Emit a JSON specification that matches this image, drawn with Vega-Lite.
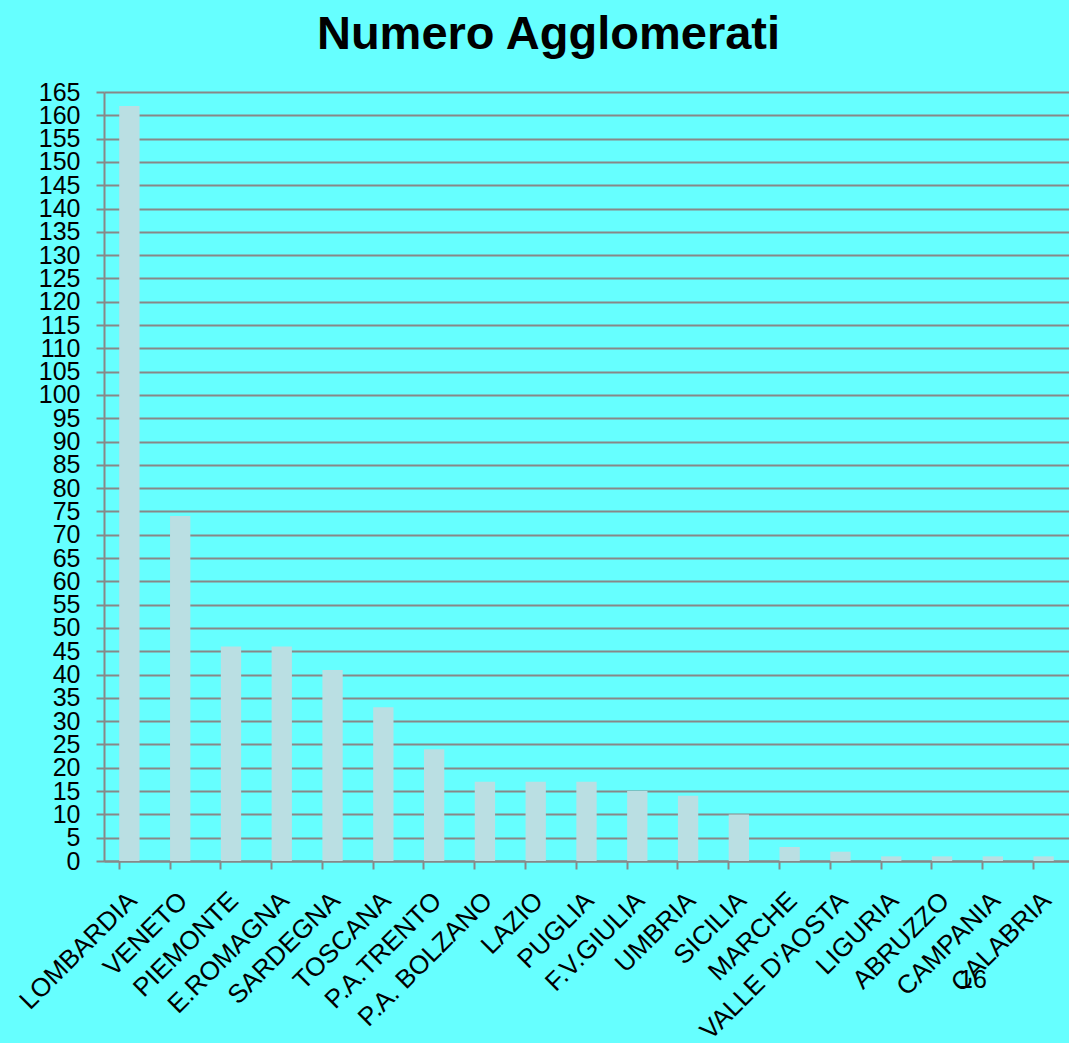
{
  "$schema": "https://vega.github.io/schema/vega-lite/v6.json",
  "width": 965,
  "height": 769,
  "autosize": {"type": "none"},
  "padding": {"left": 104, "top": 92, "right": 0, "bottom": 182},
  "background": "#66FFFF",
  "title": {
    "text": "Numero Agglomerati",
    "font": "Liberation Sans",
    "fontSize": 47,
    "fontWeight": "bold",
    "color": "#000000",
    "anchor": "middle",
    "dx": -38,
    "offset": 21
  },
  "config": {
    "view": {"stroke": null},
    "axis": {
      "labelFont": "Liberation Sans",
      "labelColor": "#000000",
      "domainColor": "#888888",
      "domainWidth": 2,
      "tickColor": "#888888",
      "tickWidth": 2,
      "gridColor": "#888888",
      "gridWidth": 2,
      "gridOpacity": 1
    }
  },
  "encoding": {
    "x": {
      "field": "regione",
      "type": "nominal",
      "sort": null,
      "scale": {"paddingInner": 0.6, "paddingOuter": 0.3},
      "axis": {
        "title": null,
        "labelAngle": -45,
        "labelAlign": "right",
        "labelBaseline": "top",
        "labelFontSize": 26,
        "labelLimit": 400,
        "tickSize": 8,
        "bandPosition": 0,
        "labelPadding": 18,
        "labelOffset": -6,
        "labelOverlap": false,
        "grid": false
      }
    },
    "y": {
      "field": "n",
      "type": "quantitative",
      "scale": {"domain": [0, 165], "nice": false},
      "axis": {
        "title": null,
        "values": [0,5,10,15,20,25,30,35,40,45,50,55,60,65,70,75,80,85,90,95,100,105,110,115,120,125,130,135,140,145,150,155,160,165],
        "labelFontSize": 25,
        "tickSize": 8,
        "labelPadding": 16,
        "labelOverlap": false,
        "grid": true
      }
    }
  },
  "layer": [
    {
      "data": {
        "values": [
          {"regione": "LOMBARDIA", "n": 162},
          {"regione": "VENETO", "n": 74},
          {"regione": "PIEMONTE", "n": 46},
          {"regione": "E.ROMAGNA", "n": 46},
          {"regione": "SARDEGNA", "n": 41},
          {"regione": "TOSCANA", "n": 33},
          {"regione": "P.A.TRENTO", "n": 24},
          {"regione": "P.A. BOLZANO", "n": 17},
          {"regione": "LAZIO", "n": 17},
          {"regione": "PUGLIA", "n": 17},
          {"regione": "F.V.GIULIA", "n": 15},
          {"regione": "UMBRIA", "n": 14},
          {"regione": "SICILIA", "n": 10},
          {"regione": "MARCHE", "n": 3},
          {"regione": "VALLE D'AOSTA", "n": 2},
          {"regione": "LIGURIA", "n": 1},
          {"regione": "ABRUZZO", "n": 1},
          {"regione": "CAMPANIA", "n": 1},
          {"regione": "CALABRIA", "n": 1}
        ]
      },
      "mark": {"type": "bar", "color": "#BADFE3"}
    },
    {
      "data": {"values": [{"regione": "CAMPANIA", "n": -25.5, "testo": "16"}]},
      "mark": {"type": "text", "font": "Liberation Sans", "fontSize": 25, "align": "right", "baseline": "middle", "dx": -6, "clip": false, "color": "#000000"},
      "encoding": {
        "text": {"field": "testo"}
      }
    }
  ]
}
